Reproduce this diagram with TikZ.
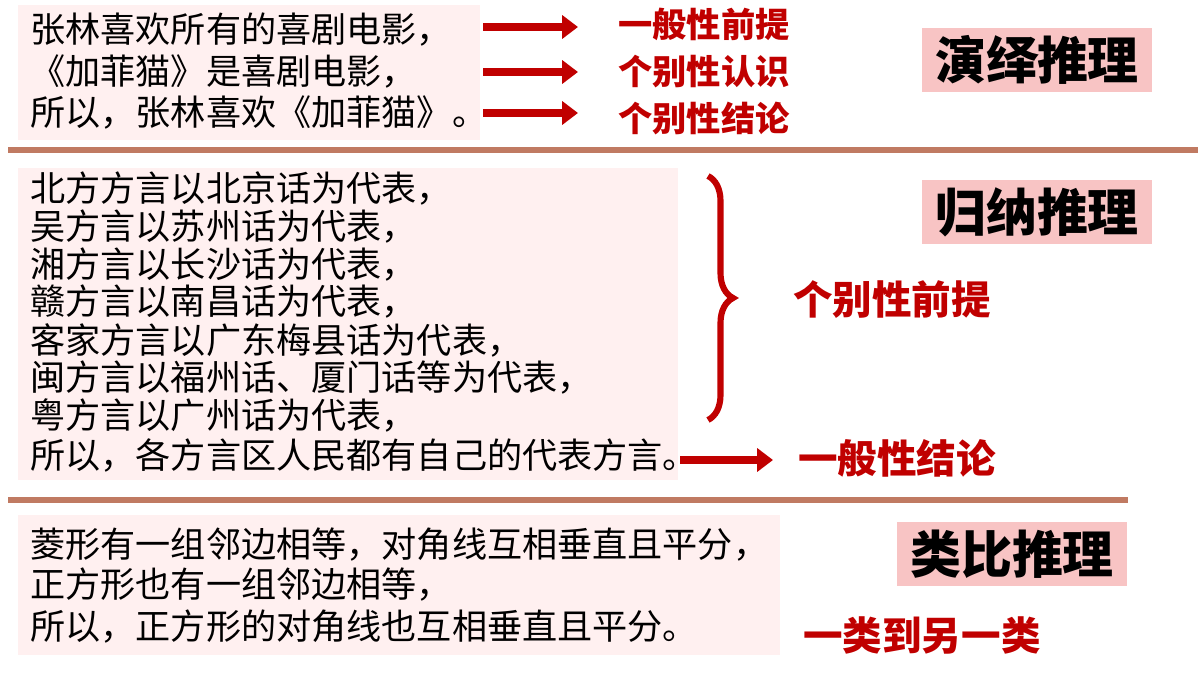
\documentclass[tikz,border=0pt]{standalone}
\usepackage{fontspec}
\usetikzlibrary{decorations.pathreplacing}
\setmainfont{Noto Sans CJK SC}
\definecolor{darkred}{HTML}{C00000}
\definecolor{boxpink}{HTML}{FFF0F0}
\definecolor{headpink}{HTML}{F8C4C4}
\definecolor{rule}{HTML}{C07A62}
\tikzset{
  body/.style={anchor=west, inner sep=0pt, font=\fontsize{20}{22}\selectfont},
  tag/.style={anchor=west, inner sep=0pt, text=darkred, font=\fontsize{19.5}{21}\selectfont\bfseries},
  bigtag/.style={tag, font=\fontsize{22.5}{24}\selectfont\bfseries},
  head/.style={fill=headpink, minimum width=4.6cm, minimum height=1.3cm, font=\fontsize{29}{31}\selectfont\bfseries},
  fat/.style={darkred, line width=4.5pt, -{Triangle[length=9pt,width=13pt]}}
}
\usetikzlibrary{arrows.meta}
\begin{document}
\begin{tikzpicture}[x=0.02cm, y=-0.02cm]
        \useasboundingbox (0,0) rectangle (1200,675);
        % deductive
        \fill[boxpink] (18,5) rectangle (480,140);
        \node[body] (d1) at (30,30) {张林喜欢所有的喜剧电影，};
        \node[body] (d2) at (30,72) {《加菲猫》是喜剧电影，};
        \node[body] (d3) at (30,113) {所以，张林喜欢《加菲猫》。};
        \coordinate (a1) at (483,27);
        \coordinate (b1) at (578,27);
        \coordinate (a2) at (483,72);
        \coordinate (b2) at (578,72);
        \coordinate (a3) at (483,113);
        \coordinate (b3) at (578,113);
        \draw[fat] (a1) -- (b1);
        \draw[fat] (a2) -- (b2);
        \draw[fat] (a3) -- (b3);
        \node[tag] (t1) at (618,24) {一般性前提};
        \node[tag] (t2) at (618,72) {个别性认识};
        \node[tag] (t3) at (618,118) {个别性结论};
        \node[head] (h1) at (1037,60) {演绎推理};
        \draw[rule, line width=3.5pt] (8,150) -- (1198,150);
        % inductive
        \fill[boxpink] (18,168) rectangle (678,480);
        \node[body] (i1) at (30,188) {北方方言以北京话为代表，};
        \node[body] (i2) at (30,227) {吴方言以苏州话为代表，};
        \node[body] (i3) at (30,265) {湘方言以长沙话为代表，};
        \node[body] (i4) at (30,302) {赣方言以南昌话为代表，};
        \node[body] (i5) at (30,340) {客家方言以广东梅县话为代表，};
        \node[body] (i6) at (30,378) {闽方言以福州话、厦门话等为代表，};
        \node[body] (i7) at (30,415) {粤方言以广州话为代表，};
        \node[body] (i8) at (30,455) {所以，各方言区人民都有自己的代表方言。};
        \coordinate (p1) at (708,176);
        \coordinate (p2) at (708,420);
        \draw[darkred, line width=3.5pt, decorate, decoration={brace, amplitude=0.5cm, aspect=0.5}] (p1) -- (p2);
        \node[bigtag] (t4) at (793,300) {个别性前提};
        \coordinate (a4) at (680,460);
        \coordinate (b4) at (773,460);
        \draw[fat] (a4) -- (b4);
        \node[bigtag] (t5) at (798,458) {一般性结论};
        \node[head] (h2) at (1037,212) {归纳推理};
        \draw[rule, line width=3.5pt] (8,500) -- (1128,500);
        % analogical
        \fill[boxpink] (18,515) rectangle (780,655);
        \node[body] (n1) at (30,545) {菱形有一组邻边相等，对角线互相垂直且平分，};
        \node[body] (n2) at (30,585) {正方形也有一组邻边相等，};
        \node[body] (n3) at (30,627) {所以，正方形的对角线也互相垂直且平分。};
        \node[head] (h3) at (1012,554) {类比推理};
        \node[bigtag] (t6) at (803,635) {一类到另一类};
\end{tikzpicture}
\end{document}
